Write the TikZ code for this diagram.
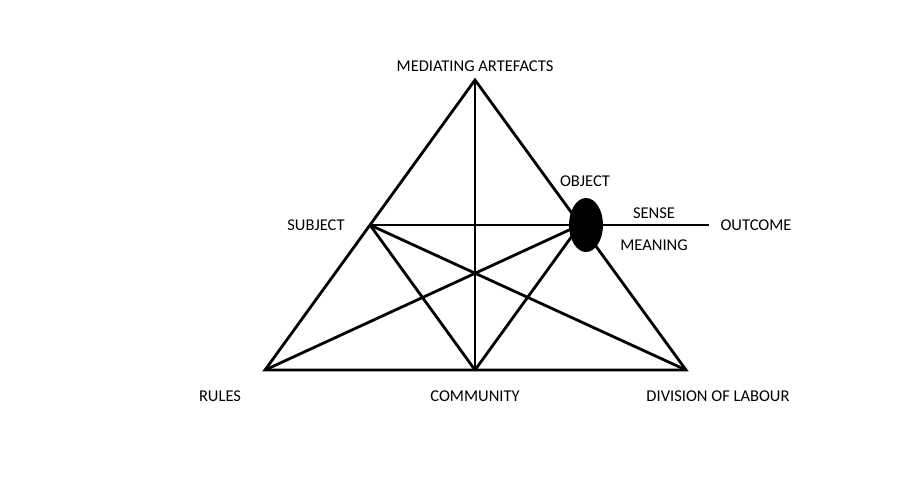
\documentclass[tikz,border=0pt]{standalone}
\usepackage{fontspec}
\setmainfont{Carlito}
\usetikzlibrary{shapes.geometric, positioning}

\begin{document}
\begin{tikzpicture}[
  x=1pt, y=-1pt,
  edge/.style={line width=2.8pt, line join=miter},
  lbl/.style={font=\fontsize{16.5}{19}\selectfont, inner sep=0pt, anchor=center},
  objdot/.style={ellipse, fill=black, minimum width=34pt, minimum height=54pt, inner sep=0pt}
]
\useasboundingbox[fill=white] (0,0) rectangle (909,495);

% Corners of the triangle and side midpoints
\coordinate (tools) at (475,80);
\coordinate (rules) at (265,370);
\coordinate (comm) at (475,370);
\coordinate (dol) at (686,370);
\coordinate (subj) at (370,225);
\coordinate (obj) at (580,225);
\coordinate (out) at (709,225);

% Outer triangle
\draw[edge] (tools) -- (rules) -- (dol) -- cycle;

% Inner lines
\draw[edge] (tools) -- (comm);
\draw[edge] (subj) -- (out);
\draw[edge] (subj) -- (comm);
\draw[edge] (subj) -- (dol);
\draw[edge] (obj) -- (comm);
\draw[edge] (obj) -- (rules);

% Object
\node[objdot] (objdot) at (586,225) {};

% Labels
\node[lbl] (toolslbl) at (475,66) {MEDIATING ARTEFACTS};
\node[lbl] (objlbl) at (585,181) {OBJECT};
\node[lbl] (senselbl) at (654,213) {SENSE};
\node[lbl] (meanlbl) at (654,245) {MEANING};
\node[lbl] (outlbl) at (756,225) {OUTCOME};
\node[lbl] (subjlbl) at (316,225) {SUBJECT};
\node[lbl] (ruleslbl) at (220,396) {RULES};
\node[lbl] (commlbl) at (475,396) {COMMUNITY};
\node[lbl] (dollbl) at (718,396) {DIVISION OF LABOUR};
\end{tikzpicture}
\end{document}
